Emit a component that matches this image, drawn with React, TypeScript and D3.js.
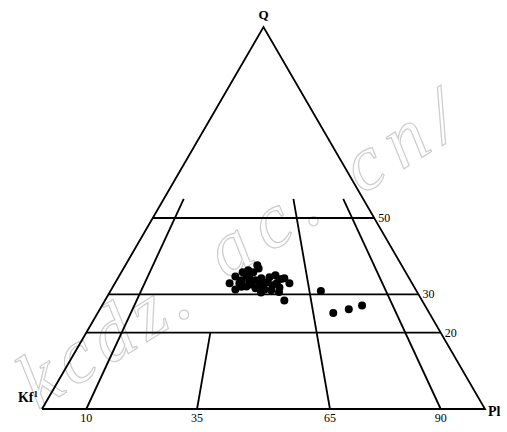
import React from "react";
import * as d3 from "d3";

// Vertex labels
const vertexQ = "Q";
const vertexKf = "Kf";
const vertexPl = "Pl";

// Q-level horizontal lines (percent Q)
const qLevels = [50, 30, 20];
// Feldspar ratio lines: Pl/(Kf+Pl) percent, and upper Q limit of each line
const ratioValues = [10, 35, 65, 90];
const ratioTops = [55, 20, 55, 55];

// Samples: Q and Pl percentages (Kf = 100 - Q - Pl)
const sampleQ = [37.6, 36.3, 35.8, 35.8, 34.7, 32.9, 33.7, 34.2, 33.7, 34.2, 33.2, 35.0, 34.2, 32.9, 32.4, 31.8, 32.4, 31.3, 32.1, 31.6, 31.3, 31.1, 28.4, 32.9, 32.6, 33.2, 34.5, 35.0, 36.8, 33.5, 32.0, 33.0, 34.0, 31.5, 30.5, 30.6, 30.9, 25.1, 26.1, 27.1];
const samplePl = [29.8, 28.4, 27.4, 29.8, 26.3, 25.9, 28.2, 29.7, 31.3, 32.4, 34.3, 35.2, 37.6, 39.4, 35.8, 37.7, 33.6, 28.0, 30.1, 32.4, 34.6, 36.2, 40.5, 28.1, 31.0, 32.5, 34.1, 28.7, 30.5, 30.0, 29.0, 36.5, 37.0, 34.0, 34.2, 38.2, 47.5, 53.2, 56.2, 58.7];

// Watermark pieces
const watermarkParts = ["kcdz.", "ac.", "cn/"];

const FONT = "'Liberation Serif', 'Times New Roman', serif";

export default function App() {
  const xBase = d3.scaleLinear().domain([0, 100]).range([42, 485]);
  const yQ = d3.scaleLinear().domain([0, 100]).range([409, 27]);
  const px = (q: number, pl: number) => xBase(pl + q / 2);
  const py = (q: number) => yQ(q);

  const tri = d3.line<[number, number]>()([
    [px(0, 0), py(0)],
    [px(0, 100), py(0)],
    [px(100, 0), py(100)],
    [px(0, 0), py(0)],
  ]) as string;

  const wmStarts: [number, number, number][] = [
    [38, 410, 7],
    [226, 280, 12],
    [362, 195, 12],
  ];

  return (
    <svg width={507} height={432} style={{ position: "absolute", left: 0, top: 0, background: "#fff" }}>
      {watermarkParts.map((t, i) => (
        <text
          key={"wm" + i}
          x={0}
          y={0}
          transform={`translate(${wmStarts[i][0]},${wmStarts[i][1]}) rotate(-32)`}
          fontFamily={FONT}
          fontStyle="italic"
          fontSize={78}
          fill="none"
          stroke="#cccccc"
          strokeWidth={1.2}
          letterSpacing={wmStarts[i][2]}
        >
          {t}
        </text>
      ))}
      <path d={tri} fill="none" stroke="#000" strokeWidth={1.8} strokeLinejoin="miter" />
      {qLevels.map((q) => (
        <g key={"q" + q}>
          <line x1={px(q, 0)} y1={py(q)} x2={px(q, 100 - q)} y2={py(q)} stroke="#000" strokeWidth={1.8} />
          <text x={px(q, 100 - q) + 4} y={py(q) + 4} fontFamily={FONT} fontSize={12} fill="#000">
            {q}
          </text>
        </g>
      ))}
      {ratioValues.map((r, i) => {
        const top = ratioTops[i];
        return (
          <g key={"r" + r}>
            <line
              x1={px(0, r)}
              y1={py(0)}
              x2={px(top, (100 - top) * r / 100)}
              y2={py(top)}
              stroke="#000"
              strokeWidth={1.8}
            />
            <text x={px(0, r)} y={py(0) + 13} textAnchor="middle" fontFamily={FONT} fontSize={12} fill="#000">
              {r}
            </text>
          </g>
        );
      })}
      {sampleQ.map((q, i) => (
        <circle key={"s" + i} cx={px(q, samplePl[i])} cy={py(q)} r={4} fill="#000" />
      ))}
      <text x={px(100, 0)} y={py(100) - 8} textAnchor="middle" fontFamily={FONT} fontSize={13} fontWeight="bold" fill="#000">
        {vertexQ}
      </text>
      <text x={px(0, 0) - 4} y={py(0) - 7} textAnchor="end" fontFamily={FONT} fontSize={14} fontWeight="bold" fill="#000">
        {vertexKf}
        <tspan fontSize={9} dy={-5}>1</tspan>
      </text>
      <text x={px(0, 100) + 3} y={py(0) + 7} fontFamily={FONT} fontSize={14} fontWeight="bold" fill="#000">
        {vertexPl}
      </text>
    </svg>
  );
}
